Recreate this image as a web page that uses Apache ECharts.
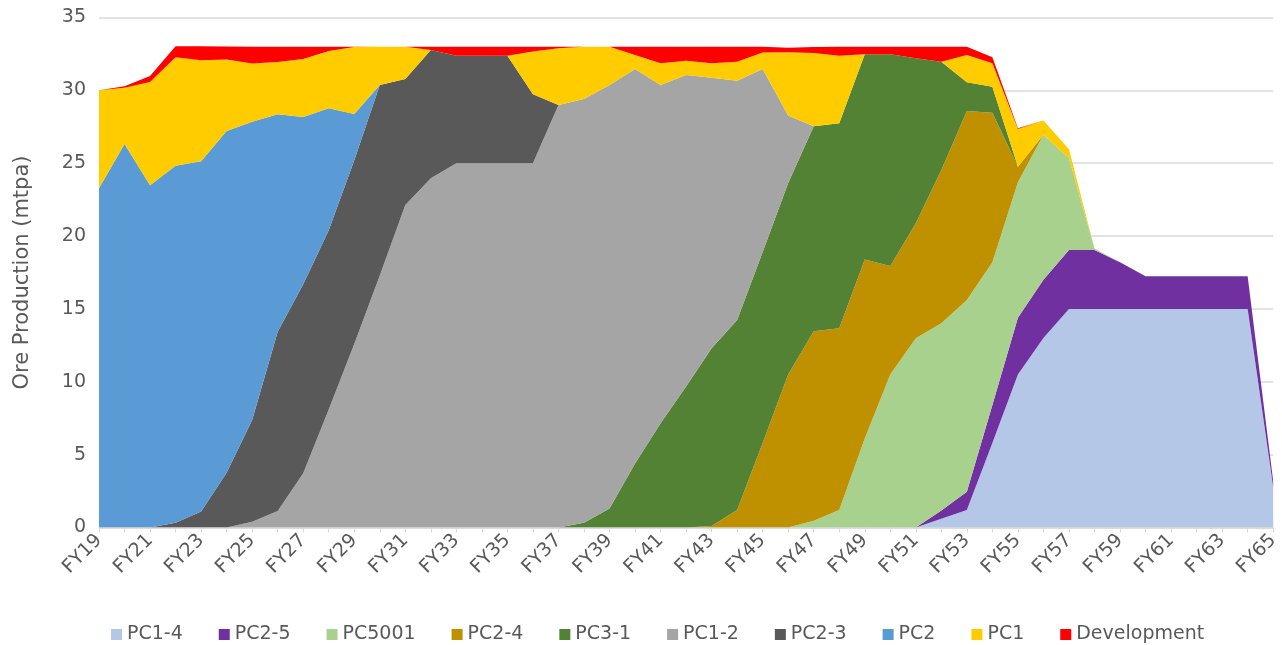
<!DOCTYPE html>
<html>
<head>
<meta charset="utf-8">
<script src="https://cdn.jsdelivr.net/npm/echarts@6/dist/echarts.min.js"></script>
<style>
html,body{margin:0;padding:0;background:#fff;overflow:hidden;}
#chart{width:1282px;height:645px;}
</style>
</head>
<body>
<div id="chart"></div>
<script>
const categories = ["FY19","FY20","FY21","FY22","FY23","FY24","FY25","FY26","FY27","FY28","FY29","FY30","FY31","FY32","FY33","FY34","FY35","FY36","FY37","FY38","FY39","FY40","FY41","FY42","FY43","FY44","FY45","FY46","FY47","FY48","FY49","FY50","FY51","FY52","FY53","FY54","FY55","FY56","FY57","FY58","FY59","FY60","FY61","FY62","FY63","FY64","FY65"];

const pc1_4 = [0,0,0,0,0,0,0,0,0,0,0,0,0,0,0,0,0,0,0,0,0,0,0,0,0,0,0,0,0,0,0,0,0,0.6,1.2,5.8,10.5,13.0,15.0,15.0,15.0,15.0,15.0,15.0,15.0,15.0,2.8];
const pc2_5 = [0,0,0,0,0,0,0,0,0,0,0,0,0,0,0,0,0,0,0,0,0,0,0,0,0,0,0,0,0,0,0,0,0,0.57,1.26,2.6,3.9,4.0,4.05,4.05,3.2,2.25,2.25,2.25,2.25,2.25,0.4];
const pc5001 = [0,0,0,0,0,0,0,0,0,0,0,0,0,0,0,0,0,0,0,0,0,0,0,0,0,0,0,0,0.47,1.2,6.1,10.5,12.98,12.84,13.15,9.8,9.3,9.95,6.3,0.1,0,0,0,0,0,0,0];
const pc2_4 = [0,0,0,0,0,0,0,0,0,0,0,0,0,0,0,0,0,0,0,0,0,0,0,0,0.1,1.2,5.8,10.5,13.0,12.47,12.3,7.45,7.9,10.53,12.97,10.27,1.06,0,0,0,0,0,0,0,0,0,0];
const pc3_1 = [0,0,0,0,0,0,0,0,0,0,0,0,0,0,0,0,0,0,0,0.33,1.31,4.4,7.15,9.67,12.2,13.04,13.1,13.15,14.06,14.07,14.07,14.52,11.32,7.43,1.97,1.78,0,0,0,0,0,0,0,0,0,0,0];
const pc1_2 = [0,0,0,0,0,0,0.4,1.13,3.72,8.1,12.6,17.3,22.13,23.96,25.0,25.0,25.0,25.0,29.0,29.08,29.06,27.07,23.22,21.38,18.57,16.42,12.57,4.62,0,0,0,0,0,0,0,0,0,0,0,0,0,0,0,0,0,0,0];
const pc2_3 = [0,0,0,0.33,1.09,3.76,6.98,12.31,12.98,12.3,12.6,13.07,8.65,8.81,7.38,7.38,7.38,4.73,0,0,0,0,0,0,0,0,0,0,0,0,0,0,0,0,0,0,0,0,0,0,0,0,0,0,0,0,0];
const pc2 = [23.28,26.32,23.48,24.5,24.04,23.45,20.47,14.92,11.47,8.37,3.18,0,0,0,0,0,0,0,0,0,0,0,0,0,0,0,0,0,0,0,0,0,0,0,0,0,0,0,0,0,0,0,0,0,0,0,0];
const pc1 = [6.72,3.86,7.1,7.44,6.93,4.9,4.0,3.59,3.98,3.93,4.6,2.63,2.22,0,0,0,0,2.93,3.89,3.59,2.63,0.96,1.49,0.99,0.99,1.31,1.12,4.35,5.04,4.64,0,0,0,0,1.88,1.61,2.59,0.98,0.61,0,0,0,0,0,0,0,0];
const development = [0,0.1,0.4,0.75,0.96,0.9,1.15,1.05,0.85,0.3,0.02,0,0,0.23,0.62,0.62,0.62,0.34,0.11,0,0,0.57,1.14,0.96,1.14,1.03,0.41,0.3,0.41,0.62,0.53,0.53,0.8,1.03,0.57,0.41,0.05,0,0,0,0,0,0,0,0,0,0];

const seriesNames = ["PC1-4","PC2-5","PC5001","PC2-4","PC3-1","PC1-2","PC2-3","PC2","PC1","Development"];
const seriesData = [pc1_4,pc2_5,pc5001,pc2_4,pc3_1,pc1_2,pc2_3,pc2,pc1,development];
const colors = ["#B4C7E7","#7030A0","#A9D18E","#BF9000","#548235","#A5A5A5","#595959","#5B9BD5","#FFCC00","#FF0000"];

const chart = echarts.init(document.getElementById('chart'), null, {renderer:'canvas', width:1282, height:645});
const FONT = 'DejaVu Sans';
chart.setOption({
  animation: false,
  color: colors,
  grid: {left: 99, top: 17.5, width: 1180, height: 510, containLabel: false},
  legend: {
    data: seriesNames,
    left: 106, top: 620,
    itemWidth: 11, itemHeight: 11, itemGap: 36,
    icon: 'rect',
    textStyle: {fontFamily: FONT, fontSize: 19, color: '#595959', padding:[0,0,0,0]}
  },
  xAxis: {
    type: 'category', data: categories, boundaryGap: false,
    axisLine: {lineStyle: {color: '#d9d9d9', width: 1.5}},
    axisTick: {show: true, interval: 0, length: 5, lineStyle: {color: '#d9d9d9'}},
    axisLabel: {interval: 1, rotate: 45, fontFamily: FONT, fontSize: 19, color: '#595959', margin: 10}
  },
  yAxis: {
    type: 'value', min: 0, max: 35, interval: 5,
    name: 'Ore Production (mtpa)', nameLocation: 'middle', nameGap: 66, nameRotate: 90,
    nameTextStyle: {fontFamily: FONT, fontSize: 21, color: '#595959'},
    axisLine: {show: false}, axisTick: {show: false},
    axisLabel: {fontFamily: FONT, fontSize: 19, color: '#595959', margin: 13},
    splitLine: {lineStyle: {color: '#d9d9d9', width: 1.5}}
  },
  series: seriesNames.map((n, i) => ({
    name: n, type: 'line', stack: 'total', data: seriesData[i],
    symbol: 'none', showSymbol: false,
    lineStyle: {width: 0}, areaStyle: {opacity: 1, color: colors[i]},
    itemStyle: {color: colors[i]}
  }))
});
</script>
</body>
</html>
